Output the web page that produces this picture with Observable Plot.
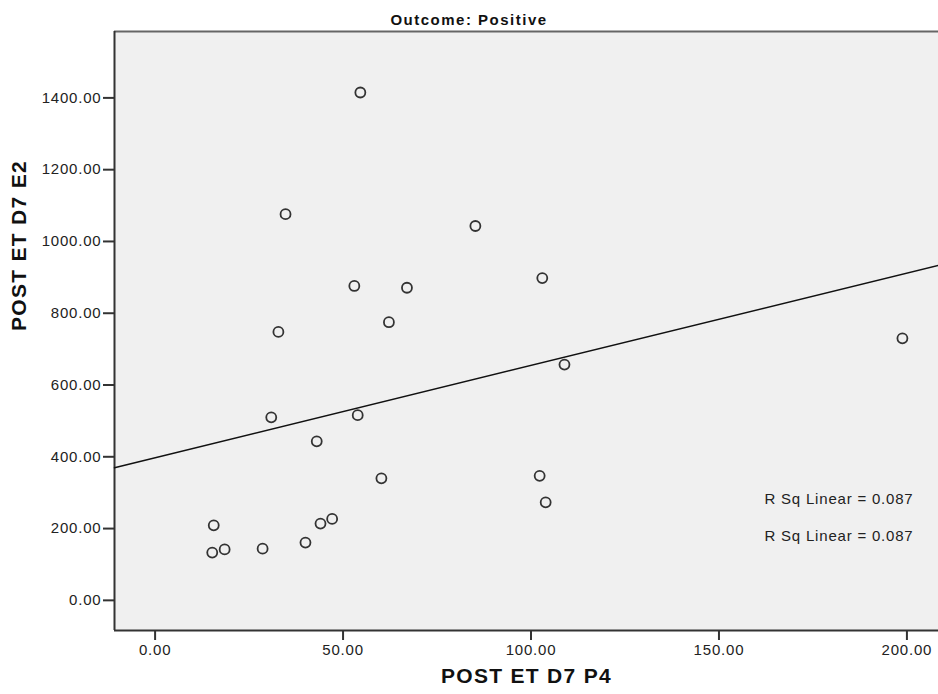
<!DOCTYPE html>
<html>
<head>
<meta charset="utf-8">
<script src="https://cdn.jsdelivr.net/npm/d3@7"></script>
<script src="https://cdn.jsdelivr.net/npm/@observablehq/plot@0.6"></script>
<style>
  body { margin: 0; background: #fff; }
  #title {
    width: 938px; height: 28px; box-sizing: border-box; padding-top: 11px;
    line-height: 17px; text-align: center; color: #111;
    font: bold 15px Arial, "Liberation Sans", sans-serif; letter-spacing: 1.5px;
  }
  #chart svg text { letter-spacing: 0.8px; }
</style>
</head>
<body>
<div id="title">Outcome: Positive</div>
<div id="chart"></div>
<script>
// POST ET D7 P4 (x) and POST ET D7 E2 (y)
const p4 = [54.6, 34.7, 85.2, 103.0, 53.0, 67.0, 62.2, 32.8, 198.8, 108.9, 30.9, 53.9,
            43.0, 60.2, 102.3, 103.9, 15.6, 47.1, 44.0, 40.0, 15.2, 18.5, 28.6];
const e2 = [1415, 1076, 1043, 898, 876, 871, 775, 748, 730, 657, 510, 516,
            443, 340, 347, 273, 209, 227, 214, 161, 133, 142, 144];
const xTicks = [0, 50, 100, 150, 200];
const yTicks = [0, 200, 400, 600, 800, 1000, 1200, 1400];
const xLabel = "POST ET D7 P4";
const yLabel = "POST ET D7 E2";
const rsqLabels = ["R Sq Linear = 0.087", "R Sq Linear = 0.087"];

const xDomain = [-10.8, 208.4];
const yDomain = [-84, 1585];

const pts = p4.map((x, i) => ({x, y: e2[i]}));
const mx = d3.mean(p4), my = d3.mean(e2);
const slope = d3.sum(p4, (x, i) => (x - mx) * (e2[i] - my)) / d3.sum(p4, x => (x - mx) ** 2);
const intercept = my - slope * mx;
const fit = xDomain.map(x => ({x, y: intercept + slope * x}));

const font = "Arial, 'Liberation Sans', sans-serif";

const svg = Plot.plot({
  width: 938,
  height: 666,
  marginTop: 3,
  marginBottom: 64,
  marginLeft: 114,
  marginRight: 0,
  style: {fontFamily: font, color: "#222", background: "#fff", overflow: "visible"},
  x: {domain: xDomain},
  y: {domain: yDomain},
  marks: [
    Plot.frame({fill: "#F0F0F0", stroke: "none"}),
    Plot.axisX({ticks: xTicks, tickFormat: d3.format(".2f"), tickSize: 10, tickPadding: 4,
                fontSize: 15, stroke: "#333", strokeWidth: 2, strokeOpacity: 1, label: null}),
    Plot.axisY({ticks: yTicks, tickFormat: d3.format(".2f"), tickSize: 11, tickPadding: 2,
                fontSize: 15, stroke: "#333", strokeWidth: 2, strokeOpacity: 1, label: null}),
    Plot.ruleY([yDomain[1]], {stroke: "#666", strokeWidth: 2}),
    Plot.ruleX([xDomain[0]], {stroke: "#333", strokeWidth: 2}),
    Plot.ruleY([yDomain[0]], {stroke: "#333", strokeWidth: 2}),
    Plot.line(fit, {x: "x", y: "y", stroke: "#111", strokeWidth: 1.5}),
    Plot.dot(pts, {x: "x", y: "y", r: 5, stroke: "#333", strokeWidth: 1.8, fill: "none"}),
    Plot.text([rsqLabels[0]], {frameAnchor: "bottom-right", textAnchor: "end", dx: -25, dy: -127,
                               fontSize: 15, fill: "#222"}),
    Plot.text([rsqLabels[1]], {frameAnchor: "bottom-right", textAnchor: "end", dx: -25, dy: -90,
                               fontSize: 15, fill: "#222"}),
    Plot.text([xLabel], {frameAnchor: "bottom", dy: 52, fontSize: 21, fontWeight: "bold", fill: "#111"}),
    Plot.text([yLabel], {frameAnchor: "left", dx: -95, rotate: -90, fontSize: 21, fontWeight: "bold", fill: "#111"})
  ]
});

d3.select(svg).selectAll("text").filter(function() {
  const t = this.textContent; return t === xLabel || t === yLabel;
}).style("letter-spacing", "1.3px");

document.getElementById("chart").appendChild(svg);
</script>
</body>
</html>
